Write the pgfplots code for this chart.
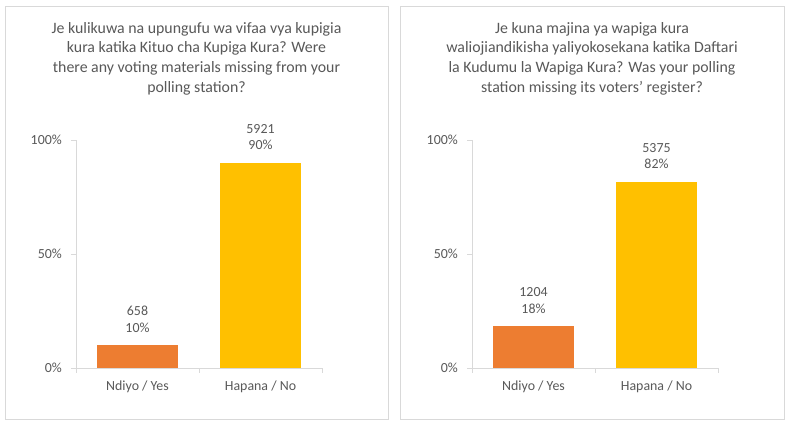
\documentclass[border=0pt]{standalone}
\usepackage{fontspec}
\setmainfont{Carlito}
\usepackage{pgfplots}
\pgfplotsset{compat=1.18}
\definecolor{txt}{HTML}{595959}
\definecolor{axgray}{HTML}{D9D9D9}
\definecolor{bord}{HTML}{D9D9D9}
\definecolor{orangebar}{HTML}{ED7D31}
\definecolor{yellowbar}{HTML}{FFC000}
\pgfplotsset{
  panel/.style={
    width=246pt, height=228pt, scale only axis,
    anchor=south west,
    ymin=0, ymax=100, xmin=-0.5, xmax=1.5,
    axis x line*=bottom, axis y line*=left,
    axis line style={axgray, line width=0.75pt},
    ytick={0,50,100}, yticklabels={0\%,50\%,100\%},
    xtick={0,1}, xticklabels={Ndiyo / Yes, Hapana / No},
    minor xtick={-0.5,0.5,1.5},
    minor ytick={0,50,100},
    major tick length=0pt, minor tick length=5pt,
    tick align=outside,
    every tick/.style={axgray, line width=0.75pt},
    every minor tick/.style={axgray, line width=0.75pt},
    yticklabel style={anchor=east, inner sep=0pt, xshift=-14pt, text=txt,
      font=\fontsize{13.9}{16.8}\selectfont},
    xticklabel style={anchor=base, inner sep=0pt, yshift=-22.7pt, text=txt,
      font=\fontsize{13.9}{16.8}\selectfont},
    /pgf/number format/assume math mode=true,
    every node near coord/.append style={align=center, anchor=south, inner sep=0pt,
      yshift=12.5pt, text=txt, font=\fontsize{13.9}{16.8}\selectfont},
    clip=false,
  },
  barA/.style={ybar, bar width=81pt, bar shift=0pt, fill=orangebar, draw=none,
    nodes near coords, point meta=explicit symbolic},
  barB/.style={ybar, bar width=81pt, bar shift=0pt, fill=yellowbar, draw=none,
    nodes near coords, point meta=explicit symbolic},
}
\begin{document}
\begin{tikzpicture}
\useasboundingbox (0pt,0pt) rectangle (791pt,427pt);
\fill[white] (0pt,0pt) rectangle (791pt,427pt);
\draw[bord, line width=0.75pt] (5pt,8pt) rectangle (388pt,421pt);
\draw[bord, line width=0.75pt] (400.5pt,8pt) rectangle (784pt,421pt);

\node[anchor=north, inner sep=0pt, align=center, text=txt,
  font=\fontsize{15.85}{19.7}\selectfont] at (196.5pt,405pt)
  {Je kulikuwa na upungufu wa vifaa vya kupigia\\kura katika Kituo cha Kupiga Kura? Were\\there any voting materials missing from your\\polling station?};
\node[anchor=north, inner sep=0pt, align=center, text=txt,
  font=\fontsize{15.85}{19.7}\selectfont] at (592pt,405pt)
  {Je kuna majina ya wapiga kura\\waliojiandikisha yaliyokosekana katika Daftari\\la Kudumu la Wapiga Kura? Was your polling\\station missing its voters’ register?};

\begin{axis}[panel, at={(76pt,59pt)}]
  \addplot[barA] coordinates {(0,10.0) [658\\10\%]};
  \addplot[barB] coordinates {(1,90.0) [5921\\90\%]};
\end{axis}

\begin{axis}[panel, at={(472pt,59pt)}]
  \addplot[barA] coordinates {(0,18.3) [1204\\18\%]};
  \addplot[barB] coordinates {(1,81.7) [5375\\82\%]};
\end{axis}
\end{tikzpicture}
\end{document}
